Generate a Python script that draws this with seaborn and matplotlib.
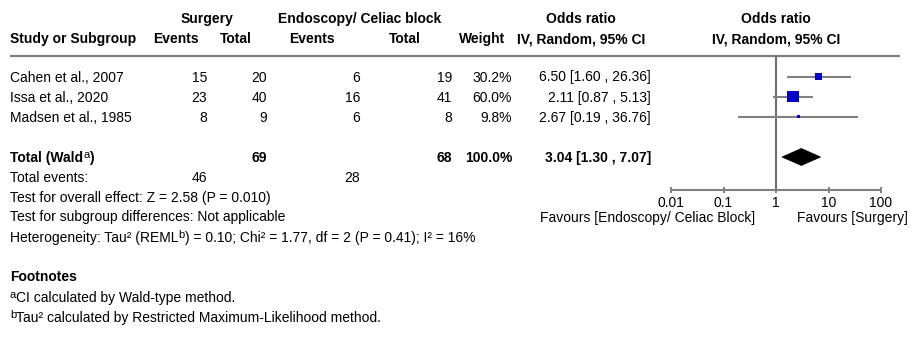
import matplotlib
matplotlib.use("Agg")
import matplotlib.pyplot as plt
from matplotlib.ticker import NullLocator
from matplotlib.patches import Polygon
import seaborn as sns
import pandas as pd

sns.set_theme(style="white")
plt.rcParams['font.family'] = ['Liberation Sans', 'DejaVu Sans']

# ---------------- data ----------------
studies = ["Cahen et al., 2007", "Issa et al., 2020", "Madsen et al., 1985"]
surg_events = [15, 23, 8]
surg_total = [20, 40, 9]
endo_events = [6, 16, 6]
endo_total = [19, 41, 8]
weights = [30.2, 60.0, 9.8]
odds = [6.50, 2.11, 2.67]
ci_low = [1.60, 0.87, 0.19]
ci_high = [26.36, 5.13, 36.76]

total_surg = 69
total_endo = 68
total_weight = 100.0
pooled_or = 3.04
pooled_low = 1.30
pooled_high = 7.07
events_surg = 46
events_endo = 28

tick_values = [0.01, 0.1, 1, 10, 100]
tick_labels = ["0.01", "0.1", "1", "10", "100"]

overall_text = "Test for overall effect: Z = 2.58 (P = 0.010)"
subgroup_text = "Test for subgroup differences: Not applicable"
het_parts = [("Heterogeneity: Tau² (REML", False), ("b", True),
             (") = 0.10; Chi² = 1.77, df = 2 (P = 0.41); I² = 16%", False)]
foot_a = [("a", True), ("CI calculated by Wald-type method.", False)]
foot_b = [("b", True), ("Tau² calculated by Restricted Maximum-Likelihood method.", False)]
total_parts = [("Total (Wald", False), ("a", True), (")", False)]
fav_left = "Favours [Endoscopy/ Celiac Block]"
fav_right = "Favours [Surgery]"

# ---------------- layout ----------------
W, H = 917, 340
FS = 10
fig = plt.figure(figsize=(W / 100, H / 100), dpi=100)
ax = fig.add_axes([0, 0, 1, 1])
ax.set_xlim(0, W)
ax.set_ylim(H, 0)
ax.axis('off')
renderer = fig.canvas.get_renderer()


def txt(x, y, s, ha='left', bold=False):
    return ax.text(x, y + 5, s, ha=ha, va='baseline', fontsize=FS,
                   fontweight='bold' if bold else 'normal', color='black')


def rich(x, y, parts, bold=False):
    cur = x
    for s, sup in parts:
        if sup:
            t = ax.text(cur, y + 5 - 4.5, s, ha='left', va='baseline', fontsize=FS * 0.8,
                        fontweight='normal', color='black')
        else:
            t = txt(cur, y, s, 'left', bold)
        bb = t.get_window_extent(renderer=renderer)
        cur += bb.width


# column anchors (pixels)
X_STUDY = 10
X_SE, X_ST, X_EE, X_ET, X_W, X_OR = 207, 267, 360, 452, 512, 651

# headers
txt(207, 18, "Surgery", 'center', True)
txt(360, 18, "Endoscopy/ Celiac block", 'center', True)
txt(581, 18, "Odds ratio", 'center', True)
txt(776, 18, "Odds ratio", 'center', True)
txt(X_STUDY, 38, "Study or Subgroup", 'left', True)
txt(199, 38, "Events", 'right', True)
txt(252, 38, "Total", 'right', True)
txt(335, 38, "Events", 'right', True)
txt(421, 38, "Total", 'right', True)
txt(505, 38, "Weight", 'right', True)
txt(581, 38, "IV, Random, 95% CI", 'center', True)
txt(776, 38, "IV, Random, 95% CI", 'center', True)

ax.hlines(56, 10, 900, color='#808080', lw=1.6)

row_y = [76.5 + 20.2 * i for i in range(len(studies))]
for i, name in enumerate(studies):
    y = row_y[i]
    txt(X_STUDY, y, name)
    txt(X_SE, y, str(surg_events[i]), 'right')
    txt(X_ST, y, str(surg_total[i]), 'right')
    txt(X_EE, y, str(endo_events[i]), 'right')
    txt(X_ET, y, str(endo_total[i]), 'right')
    txt(X_W, y, f"{weights[i]:.1f}%", 'right')
    txt(X_OR, y, f"{odds[i]:.2f} [{ci_low[i]:.2f} , {ci_high[i]:.2f}]", 'right')

Y_TOT = 157
rich(X_STUDY, Y_TOT, total_parts, bold=True)
txt(X_ST, Y_TOT, str(total_surg), 'right', True)
txt(X_ET, Y_TOT, str(total_endo), 'right', True)
txt(X_W, Y_TOT, f"{total_weight:.1f}%", 'right', True)
txt(X_OR, Y_TOT, f"{pooled_or:.2f} [{pooled_low:.2f} , {pooled_high:.2f}]", 'right', True)

txt(X_STUDY, 177, "Total events:")
txt(X_SE, 177, str(events_surg), 'right')
txt(X_EE, 177, str(events_endo), 'right')
txt(X_STUDY, 197, overall_text)
txt(X_STUDY, 216, subgroup_text)
rich(X_STUDY, 237, het_parts)
txt(X_STUDY, 276, "Footnotes", 'left', True)
rich(X_STUDY, 297, foot_a)
rich(X_STUDY, 317, foot_b)

txt(755, 217, fav_left, 'right')
txt(797, 217, fav_right, 'left')

# ---------------- forest axes ----------------
AX_L, AX_R, AX_TOP, AX_BOT = 671, 881, 56, 190
fa = fig.add_axes([AX_L / W, 1 - AX_BOT / H, (AX_R - AX_L) / W, (AX_BOT - AX_TOP) / H])
fa.patch.set_alpha(0)
fa.set_xscale('log')

df = pd.DataFrame({"or": odds, "lo": ci_low, "hi": ci_high, "w": weights, "y": row_y})
fa.hlines(df["y"], df["lo"], df["hi"], color='#808080', lw=1.5, zorder=2)


def marker_area(w):
    side_px = 11.3 * (w / max(weights)) ** 0.75
    return (side_px * 0.72) ** 2


sns.scatterplot(data=df, x="or", y="y", size="w",
                sizes={w: marker_area(w) for w in weights},
                marker='s', color='#0000c8', linewidth=0, legend=False,
                ax=fa, zorder=3)

fa.add_patch(Polygon([[pooled_low, Y_TOT], [pooled_or, Y_TOT - 8.5],
                      [pooled_high, Y_TOT], [pooled_or, Y_TOT + 8.5]],
                     closed=True, facecolor='black', edgecolor='black', lw=0.5, zorder=3))

fa.axvline(1, color='#707070', lw=1.5, zorder=1)
fa.set_xlim(0.01, 100)
fa.set_ylim(AX_BOT, AX_TOP)
fa.set_xticks(tick_values)
fa.set_xticklabels(tick_labels)
fa.xaxis.set_minor_locator(NullLocator())
fa.set_yticks([])
fa.set_xlabel("")
fa.set_ylabel("")
for s in ['top', 'left', 'right']:
    fa.spines[s].set_visible(False)
fa.spines['bottom'].set_color('#808080')
fa.spines['bottom'].set_linewidth(1.5)
fa.tick_params(axis='x', direction='inout', length=4.8, width=1.4, color='#808080',
               pad=2, labelsize=FS, labelcolor='black', bottom=True)

fig.savefig("out.png", dpi=100)
